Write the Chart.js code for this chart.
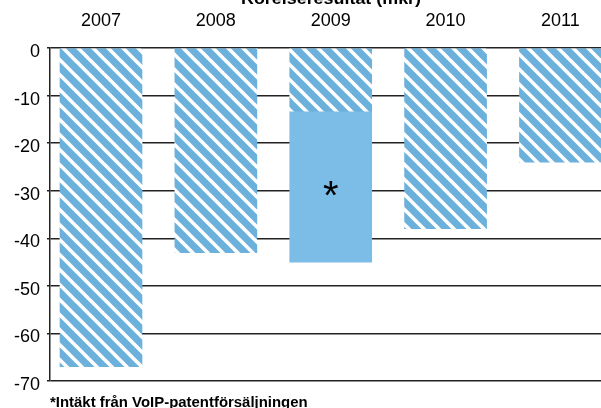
<!DOCTYPE html>
<html>
<head>
<meta charset="utf-8">
<script src="https://cdn.jsdelivr.net/npm/chart.js@4.4.1/dist/chart.umd.min.js"></script>
<style>
  html, body { margin: 0; padding: 0; background: #fff; overflow: hidden; }
  #wrap { position: relative; width: 601px; height: 408px; }
  #title, #note { position: absolute; white-space: nowrap; color: #000; font-family: "Liberation Sans", Arial, sans-serif; font-weight: bold; }
  #title { left: 241px; top: -10px; font-size: 17px; line-height: 17px; transform-origin: 0 0; }
  #note { left: 50px; top: 395px; font-size: 14px; line-height: 14px; transform-origin: 0 0; }
</style>
</head>
<body>
<div id="wrap">
  <canvas id="chart" width="601" height="408"></canvas>
  <span id="title">Rörelseresultat (mkr)</span>
  <span id="note">*Intäkt från VoIP-patentförsäljningen</span>
</div>
<script>
'use strict';

const years = ['2007', '2008', '2009', '2010', '2011'];
// operating result, the striped part of each bar
const resultStriped = [-67, -43, -13.3, -38, -24];
// solid part (2009, VoIP patent sale)
const resultSolid = [null, null, -31.7, null, null];
const yMin = -70;
const yMax = 0;
const yStep = 10;

const STRIPE_BLUE = '#6cb0dc';
const SOLID_BLUE = '#7cbde8';

// squeeze the html labels to the widths in the picture
const fitText = (id, w) => {
  const el = document.getElementById(id);
  el.style.transform = `scaleX(${w / el.offsetWidth})`;
};
fitText('title', 180);
fitText('note', 258);

// diagonal stripe fill
const makeStripes = () => {
  const s = 15;
  const c = document.createElement('canvas');
  c.width = s;
  c.height = s;
  const ctx = c.getContext('2d');
  ctx.fillStyle = STRIPE_BLUE;
  ctx.fillRect(0, 0, s, s);
  ctx.strokeStyle = '#fff';
  ctx.lineWidth = 3.6;
  for (let k = -1; k <= 1; k++) {
    ctx.beginPath();
    ctx.moveTo(k * s - 2, -2);
    ctx.lineTo(k * s + s + 2, s + 2);
    ctx.stroke();
  }
  return document.getElementById('chart').getContext('2d').createPattern(c, 'repeat');
};

// the "*" in the middle of the solid 2009 block
const asterisk = {
  id: 'asterisk',
  afterDatasetsDraw(chart) {
    const el = chart.getDatasetMeta(1).data[2];
    if (!el) return;
    const { x, y, base } = el.getProps(['x', 'y', 'base'], true);
    const ctx = chart.ctx;
    ctx.save();
    ctx.font = '40px "Liberation Sans", Arial, sans-serif';
    ctx.fillStyle = '#000';
    ctx.textAlign = 'center';
    ctx.textBaseline = 'alphabetic';
    const m = ctx.measureText('*');
    const h = m.actualBoundingBoxAscent + m.actualBoundingBoxDescent;
    const cy = (y + base) / 2 + 2;
    ctx.fillText('*', x, cy + m.actualBoundingBoxAscent - h / 2);
    ctx.restore();
  }
};

const stripes = makeStripes();

new Chart(document.getElementById('chart'), {
  type: 'bar',
  data: {
    datasets: [{
      label: 'Rörelseresultat',
      data: resultStriped.map((v, i) => ({ x: i, y: v })),
      backgroundColor: stripes,
      borderWidth: 0,
      barThickness: 82
    }, {
      label: 'VoIP',
      data: resultSolid.map((v, i) => ({ x: i, y: v })),
      backgroundColor: SOLID_BLUE,
      borderWidth: 0,
      barThickness: 82
    }]
  },
  options: {
    responsive: false,
    animation: false,
    layout: { padding: { top: 0, right: 0, bottom: 27, left: 0 } },
    plugins: {
      legend: { display: false },
      tooltip: { enabled: false }
    },
    scales: {
      x: {
        type: 'linear',
        position: 'top',
        stacked: true,
        offset: false,
        min: -0.444,
        max: 4.353,
        afterBuildTicks: (scale) => {
          scale.ticks = years.map((_, i) => ({ value: i }));
        },
        afterFit: (scale) => { scale.height = 48; },
        grid: { display: false, drawTicks: false },
        border: { display: false },
        ticks: {
          padding: 16,
          color: '#000',
          font: { family: '"Liberation Sans", Arial, sans-serif', size: 18 },
          callback: (v) => years[v]
        }
      },
      y: {
        stacked: true,
        min: yMin,
        max: yMax,
        afterFit: (scale) => { scale.width = 50; },
        grid: { color: '#222', lineWidth: 1.5, tickLength: 3 },
        border: { color: '#222', width: 1.5 },
        ticks: {
          stepSize: yStep,
          padding: 7,
          labelOffset: 4,
          color: '#000',
          font: { family: '"Liberation Sans", Arial, sans-serif', size: 18 }
        }
      }
    }
  },
  plugins: [asterisk]
});
</script>
</body>
</html>
